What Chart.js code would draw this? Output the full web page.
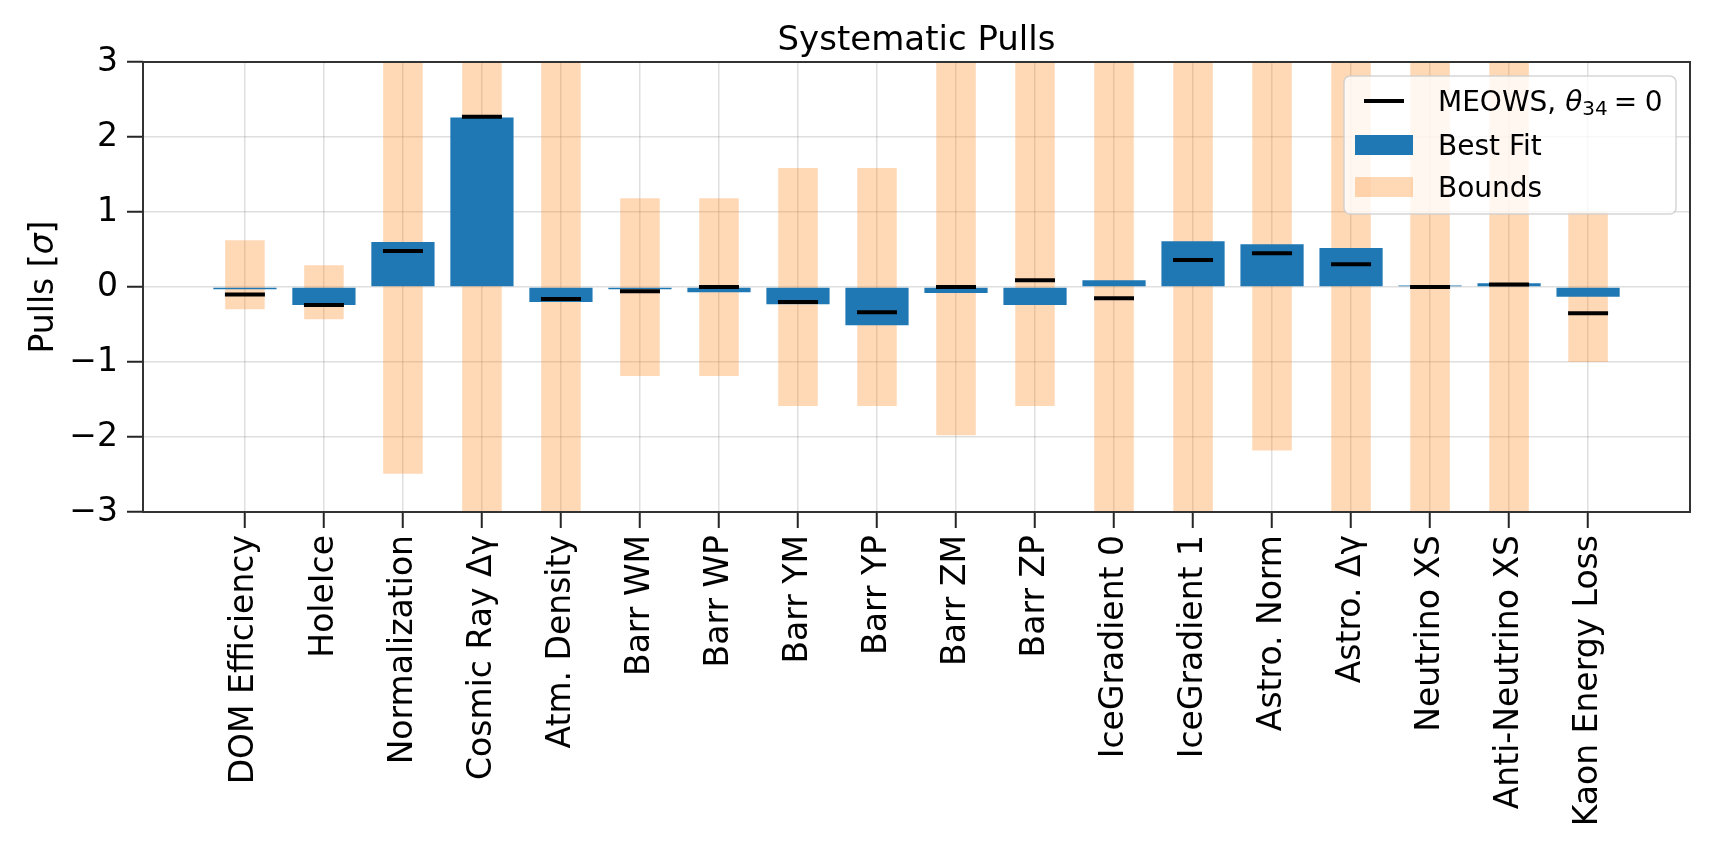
<!DOCTYPE html>
<html>
<head>
<meta charset="utf-8">
<title>Systematic Pulls</title>
<script src="https://cdn.jsdelivr.net/npm/chart.js@4.4.1/dist/chart.umd.min.js"></script>
<style>
  html, body { margin: 0; padding: 0; background: #fff; overflow: hidden; }
  canvas { display: block; }
</style>
</head>
<body>
<canvas id="pullsChart" width="1728" height="864"></canvas>
<script>
// values, one entry per systematic
const categories = ['DOM Efficiency', 'HoleIce', 'Normalization', 'Cosmic Ray Δγ', 'Atm. Density',
  'Barr WM', 'Barr WP', 'Barr YM', 'Barr YP', 'Barr ZM', 'Barr ZP', 'IceGradient 0', 'IceGradient 1',
  'Astro. Norm', 'Astro. Δγ', 'Neutrino XS', 'Anti-Neutrino XS', 'Kaon Energy Loss'];
const bestFit = [-0.03, -0.24, 0.60, 2.26, -0.20, -0.03, -0.07, -0.23, -0.51, -0.08, -0.24, 0.09,
  0.61, 0.57, 0.52, 0.02, 0.05, -0.13];
const meows = [-0.10, -0.24, 0.48, 2.27, -0.16, -0.055, 0.00, -0.20, -0.335, 0.00, 0.09, -0.15,
  0.36, 0.45, 0.305, 0.00, 0.035, -0.35];
// bounds that run off the plot are given as +-5 (they are clipped at +-3)
const boundsLow = [-0.295, -0.43, -2.49, -5, -5, -1.185, -1.185, -1.587, -1.587, -1.975, -1.587, -5,
  -5, -2.18, -5, -5, -5, -1.0];
const boundsHigh = [0.625, 0.29, 5, 5, 5, 1.185, 1.185, 1.587, 1.587, 5, 5, 5, 5, 5, 5, 5, 5, 1.0];
const seriesNames = ['MEOWS, θ34 = 0', 'Best Fit', 'Bounds'];
const yTicks = [-3, -2, -1, 0, 1, 2, 3];
const chartTitle = 'Systematic Pulls';

const BLUE = '#1f77b4';
const ORANGE = 'rgba(255,127,14,0.3)';
const GRID = 'rgba(128,128,128,0.25)';
const FONT = '"DejaVu Sans"';

Chart.defaults.font.family = FONT;
Chart.defaults.color = '#000';

// box round the plot (matplotlib spines) + title centred over the axes
const framePlugin = {
  id: 'frame',
  afterDraw(chart) {
    const { ctx, chartArea: a } = chart;
    ctx.save();
    ctx.strokeStyle = '#333';
    ctx.lineWidth = 2;
    ctx.strokeRect(a.left, a.top, a.right - a.left, a.bottom - a.top);
    ctx.fillStyle = '#000';
    ctx.font = '34px ' + FONT;
    ctx.textAlign = 'center';
    ctx.textBaseline = 'alphabetic';
    ctx.fillText(chartTitle, (a.left + a.right) / 2, a.top - 12);
    ctx.restore();
  }
};

// y label with an italic sigma
const yLabelPlugin = {
  id: 'yLabel',
  afterDraw(chart) {
    const { ctx, chartArea: a } = chart;
    const parts = [['Pulls [', 'normal'], ['σ', 'italic'], [']', 'normal']];
    ctx.save();
    ctx.translate(53, (a.top + a.bottom) / 2);
    ctx.rotate(-Math.PI / 2);
    ctx.fillStyle = '#000';
    ctx.textBaseline = 'alphabetic';
    ctx.textAlign = 'left';
    let total = 0;
    parts.forEach(p => { ctx.font = p[1] + ' 33px ' + FONT; total += ctx.measureText(p[0]).width; });
    let x = -total / 2;
    parts.forEach(p => {
      ctx.font = p[1] + ' 33px ' + FONT;
      ctx.fillText(p[0], x, 0);
      x += ctx.measureText(p[0]).width;
    });
    ctx.restore();
  }
};

// legend drawn inside the plot, top right
const legendPlugin = {
  id: 'pullsLegend',
  afterDraw(chart) {
    const { ctx, chartArea: a } = chart;
    const x0 = a.right - 346, y0 = a.top + 14, w = 332, h = 138;
    ctx.save();
    ctx.beginPath();
    ctx.roundRect(x0, y0, w, h, 6);
    ctx.fillStyle = 'rgba(255,255,255,0.8)';
    ctx.fill();
    ctx.strokeStyle = 'rgba(204,204,204,0.8)';
    ctx.lineWidth = 1.5;
    ctx.stroke();

    // handles
    ctx.strokeStyle = '#000';
    ctx.lineWidth = 4;
    ctx.beginPath();
    ctx.moveTo(x0 + 20, y0 + 25);
    ctx.lineTo(x0 + 60, y0 + 25);
    ctx.stroke();
    ctx.fillStyle = BLUE;
    ctx.fillRect(x0 + 11, y0 + 59, 58, 20);
    ctx.fillStyle = ORANGE;
    ctx.fillRect(x0 + 11, y0 + 101, 58, 20);

    // texts
    const tx = x0 + 94;
    ctx.fillStyle = '#000';
    ctx.textBaseline = 'alphabetic';
    ctx.textAlign = 'left';
    ctx.font = '28px ' + FONT;
    const head = 'MEOWS, ';
    ctx.fillText(head, tx, y0 + 35);
    let x = tx + ctx.measureText(head).width;
    ctx.font = 'italic 28px ' + FONT;
    ctx.fillText('θ', x, y0 + 35);
    x += ctx.measureText('θ').width;
    ctx.font = '20px ' + FONT;
    ctx.fillText('34', x, y0 + 39);
    x += ctx.measureText('34').width;
    ctx.font = '28px ' + FONT;
    ctx.fillText('=', x + 6, y0 + 35);
    ctx.fillText('0', x + 37, y0 + 35);
    ctx.fillText(seriesNames[1], tx, y0 + 79);
    ctx.fillText(seriesNames[2], tx, y0 + 121);
    ctx.restore();
  }
};

const ctx = document.getElementById('pullsChart').getContext('2d');
new Chart(ctx, {
  type: 'bar',
  data: {
    datasets: [
      {
        type: 'line',
        label: seriesNames[0],
        data: meows.map((v, i) => ({ x: i, y: v })),
        showLine: false,
        pointStyle: 'line',
        pointRadius: 20,
        pointHoverRadius: 20,
        pointBorderWidth: 4,
        pointBorderColor: '#000',
        pointBackgroundColor: '#000',
        order: 0
      },
      {
        label: seriesNames[1],
        data: bestFit.map((v, i) => ({ x: i, y: v })),
        backgroundColor: BLUE,
        grouped: false,
        barPercentage: 0.8,
        categoryPercentage: 1,
        order: 1
      },
      {
        label: seriesNames[2],
        data: boundsLow.map((v, i) => ({ x: i, y: [v, boundsHigh[i]] })),
        backgroundColor: ORANGE,
        grouped: false,
        barPercentage: 0.5,
        categoryPercentage: 1,
        order: 2
      }
    ]
  },
  options: {
    responsive: false,
    animation: false,
    devicePixelRatio: 1,
    layout: { padding: { left: 0, right: 38, top: 62, bottom: 0 } },
    plugins: {
      legend: { display: false },
      tooltip: { enabled: false },
      title: { display: false }
    },
    scales: {
      x: {
        type: 'linear',
        min: -1.29,
        max: 18.29,
        offset: false,
        z: 1,
        afterBuildTicks: s => { s.ticks = categories.map((c, i) => ({ value: i })); },
        afterFit: s => { s.height = 352; },
        border: { display: false },
        grid: { offset: false, color: GRID, lineWidth: 1.5, tickLength: 16, tickColor: '#262626', tickWidth: 2 },
        ticks: {
          autoSkip: false, minRotation: 90, maxRotation: 90, padding: 7,
          color: '#000', font: { size: 33 },
          callback: v => categories[v] !== undefined ? categories[v] : ''
        }
      },
      y: {
        min: -3,
        max: 3,
        z: 1,
        afterBuildTicks: s => { s.ticks = yTicks.map(v => ({ value: v })); },
        afterFit: s => { s.width = 143; },
        border: { display: false },
        grid: { color: GRID, lineWidth: 1.5, tickLength: 16, tickColor: '#262626', tickWidth: 2 },
        ticks: {
          padding: 9, color: '#000', font: { size: 33 },
          callback: v => v < 0 ? '\u2212' + Math.abs(v) : String(v)
        }
      }
    }
  },
  plugins: [framePlugin, yLabelPlugin, legendPlugin]
});
</script>
</body>
</html>
